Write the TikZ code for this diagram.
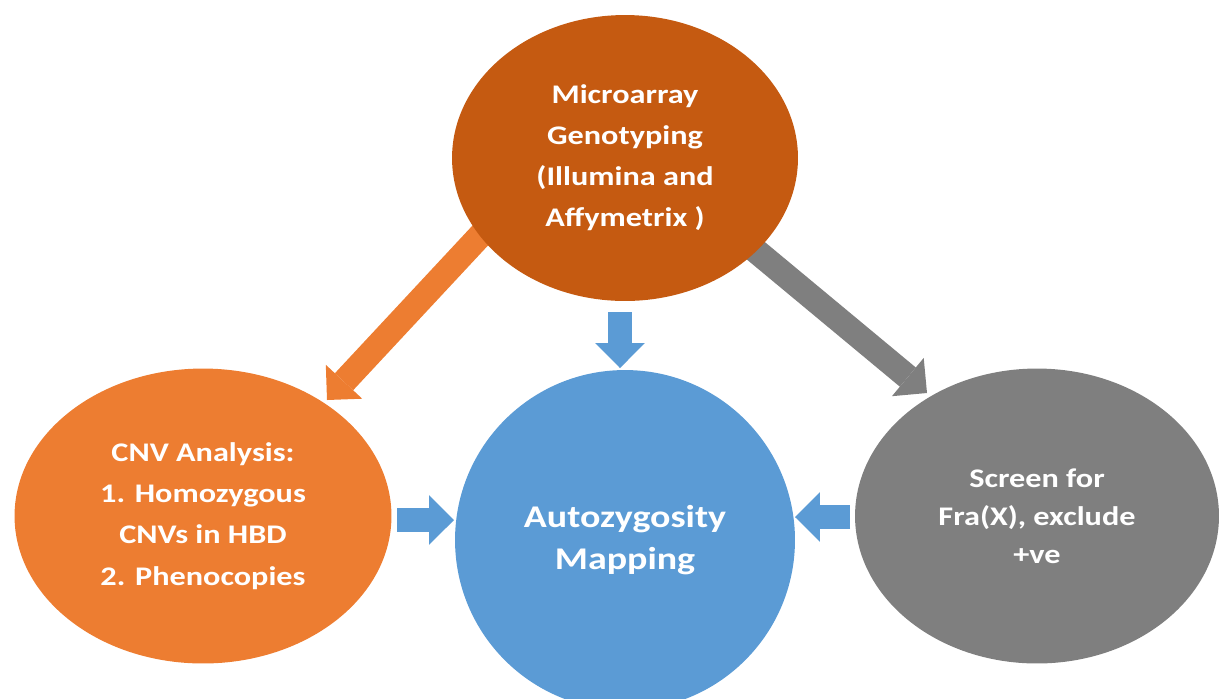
\documentclass[tikz,border=0pt]{standalone}
\usepackage{fontspec}
\setmainfont{Carlito}[FakeStretch=1.2]
\usetikzlibrary{shapes.geometric,arrows.meta}
\pgfdeclarelayer{bg}
\pgfsetlayers{bg,main}
\definecolor{dkorange}{HTML}{C55A11}
\definecolor{ltorange}{HTML}{ED7D31}
\definecolor{skyblue}{HTML}{5B9BD5}
\definecolor{midgray}{HTML}{7F7F7F}
\begin{document}
\begin{tikzpicture}[x=0.02cm,y=-0.02cm,
  bubble/.style={ellipse, inner sep=0pt, text=white, align=center,
    font=\bfseries\fontsize{15.3pt}{23.4pt}\selectfont},
  blockarrow/.style={line width=14.2pt,
    -{Triangle[length=14.2pt 0 0, width=28.3pt 0 0, line width=0pt 0 0]}}
]
\useasboundingbox (0,0) rectangle (1222,698);
\clip (0,0) rectangle (1222,698);

% bubbles
\node[bubble, fill=dkorange, minimum width=6.92cm, minimum height=5.72cm] (geno) at (625,158)
  {Microarray\\Genotyping\\(Illumina and\\Affymetrix )};
\node[bubble, fill=ltorange, minimum width=7.54cm, minimum height=5.9cm] (cnv) at (203,516)
  {CNV Analysis:\\1. Homozygous\\CNVs in HBD\\2. Phenocopies};
\node[bubble, fill=skyblue, minimum width=6.8cm, minimum height=6.8cm,
  font=\bfseries\fontsize{18pt}{23.8pt}\selectfont] (auto) at (625,540)
  {Autozygosity\\Mapping};
\node[bubble, fill=midgray, minimum width=7.28cm, minimum height=5.9cm,
  font=\bfseries\fontsize{15.3pt}{21.5pt}\selectfont] (fra) at (1037,516)
  {Screen for\\Fra(X), exclude\\+ve};

% arrow end points
\coordinate (oT) at (504,210);
\coordinate (oH) at (327,400);
\coordinate (gT) at (720,221);
\coordinate (gH) at (927,393);
\coordinate (dT) at (620,312);
\coordinate (dH) at (620,368);
\coordinate (lT) at (397,520);
\coordinate (lH) at (454,520);
\coordinate (rT) at (850,517);
\coordinate (rH) at (795,517);

\begin{pgfonlayer}{bg}
\draw[blockarrow, ltorange] (oT) -- (oH);
\draw[blockarrow, midgray] (gT) -- (gH);
\draw[blockarrow, skyblue] (dT) -- (dH);
\draw[blockarrow, skyblue] (lT) -- (lH);
\draw[blockarrow, skyblue] (rT) -- (rH);
\end{pgfonlayer}
\end{tikzpicture}
\end{document}
